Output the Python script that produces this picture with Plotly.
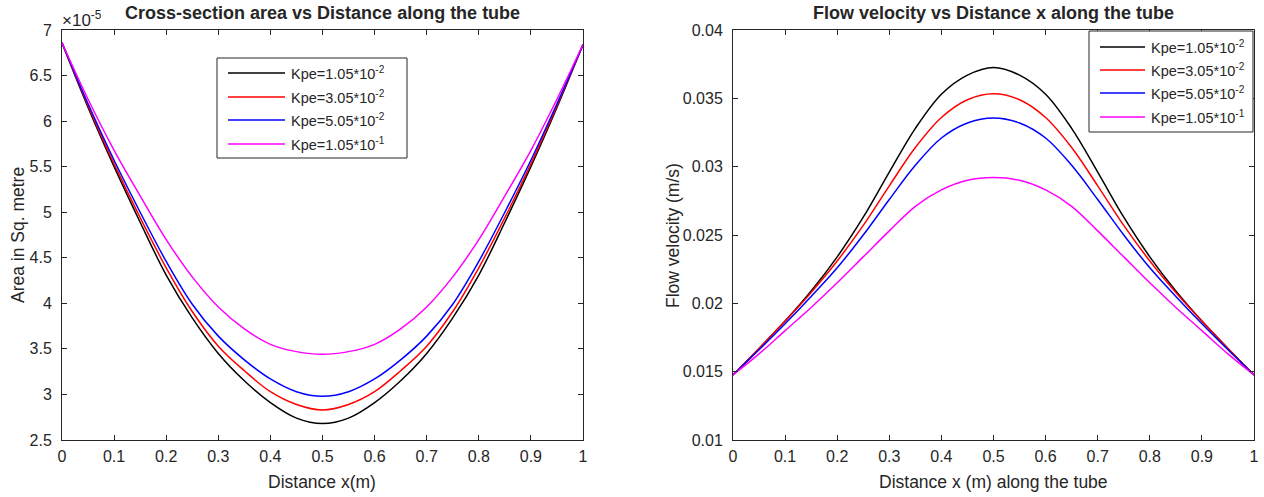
import plotly.graph_objects as go

#-------------------------------------------------------------------------------
#   Values (x every 0.05 m)
#-------------------------------------------------------------------------------
x_dist = [0, 0.05, 0.1, 0.15, 0.2, 0.25, 0.3, 0.35, 0.4, 0.45, 0.5,
          0.55, 0.6, 0.65, 0.7, 0.75, 0.8, 0.85, 0.9, 0.95, 1]

kpe_labels = ['Kpe=1.05*10<sup>-2</sup>', 'Kpe=3.05*10<sup>-2</sup>',
              'Kpe=5.05*10<sup>-2</sup>', 'Kpe=1.05*10<sup>-1</sup>']
kpe_colors = ['#000000', '#FF0000', '#0000FF', '#FF00FF']

# cross-section area, in units of 1e-5 m^2
area_k1 = [6.86, 6.15, 5.50, 4.89, 4.31, 3.84, 3.45, 3.15, 2.91, 2.74, 2.68,
           2.74, 2.91, 3.15, 3.45, 3.84, 4.31, 4.89, 5.50, 6.15, 6.84]
area_k2 = [6.86, 6.17, 5.53, 4.94, 4.39, 3.91, 3.53, 3.26, 3.03, 2.89, 2.83,
           2.89, 3.03, 3.26, 3.53, 3.91, 4.39, 4.94, 5.53, 6.17, 6.84]
area_k3 = [6.86, 6.19, 5.57, 5.00, 4.46, 3.99, 3.64, 3.38, 3.17, 3.03, 2.98,
           3.03, 3.17, 3.38, 3.64, 3.99, 4.46, 5.00, 5.57, 6.19, 6.84]
area_k4 = [6.86, 6.24, 5.68, 5.18, 4.70, 4.29, 3.96, 3.72, 3.55, 3.47, 3.44,
           3.47, 3.55, 3.72, 3.96, 4.29, 4.70, 5.18, 5.68, 6.24, 6.84]

# flow velocity, m/s
vel_k1 = [0.01476, 0.0167, 0.0187, 0.0209, 0.0234, 0.0263, 0.0296, 0.0328,
          0.0353, 0.0367, 0.03726, 0.0367, 0.0353, 0.0328, 0.0296, 0.0263,
          0.0234, 0.0209, 0.0187, 0.0167, 0.01476]
vel_k2 = [0.01476, 0.0167, 0.0187, 0.0208, 0.0231, 0.0257, 0.0286, 0.0314,
          0.0336, 0.0349, 0.03534, 0.0349, 0.0336, 0.0314, 0.0286, 0.0257,
          0.0231, 0.0208, 0.0187, 0.0167, 0.01476]
vel_k3 = [0.01476, 0.0166, 0.0185, 0.0205, 0.0226, 0.0250, 0.0276, 0.0301,
          0.0321, 0.0332, 0.03357, 0.0332, 0.0321, 0.0301, 0.0276, 0.0250,
          0.0226, 0.0205, 0.0185, 0.0166, 0.01476]
vel_k4 = [0.01476, 0.0163, 0.0180, 0.0197, 0.0215, 0.0234, 0.0253, 0.0271,
          0.0283, 0.0290, 0.0292, 0.0290, 0.0283, 0.0271, 0.0253, 0.0234,
          0.0215, 0.0197, 0.0180, 0.0163, 0.01476]

x_ticks = [0, 0.1, 0.2, 0.3, 0.4, 0.5, 0.6, 0.7, 0.8, 0.9, 1]
x_ticktext = ['0', '0.1', '0.2', '0.3', '0.4', '0.5', '0.6', '0.7', '0.8', '0.9', '1']
area_ticks = [2.5, 3, 3.5, 4, 4.5, 5, 5.5, 6, 6.5, 7]
area_ticktext = ['2.5', '3', '3.5', '4', '4.5', '5', '5.5', '6', '6.5', '7']
vel_ticks = [0.01, 0.015, 0.02, 0.025, 0.03, 0.035, 0.04]
vel_ticktext = ['0.01', '0.015', '0.02', '0.025', '0.03', '0.035', '0.04']

#-------------------------------------------------------------------------------
#   Figure, matlab-like look
#-------------------------------------------------------------------------------
W, H = 1264, 497
FONT = 'Liberation Sans, Arial, sans-serif'
AX = '#262626'


def px(x):
    return x / W


def py(y):
    return 1 - y / H


fig = go.Figure()
for area, vel, name, col in zip([area_k1, area_k2, area_k3, area_k4],
                                [vel_k1, vel_k2, vel_k3, vel_k4],
                                kpe_labels, kpe_colors):
    fig.add_trace(go.Scatter(x=x_dist, y=area, mode='lines', name=name,
                             line=dict(color=col, width=1.5, shape='spline'),
                             xaxis='x', yaxis='y', showlegend=False))
    fig.add_trace(go.Scatter(x=x_dist, y=vel, mode='lines', name=name,
                             line=dict(color=col, width=1.5, shape='spline'),
                             xaxis='x2', yaxis='y2', showlegend=False))

axis_style = dict(
    showline=True, linecolor=AX, linewidth=1, mirror='ticks',
    ticks='inside', ticklen=5, tickcolor=AX, tickwidth=1,
    showgrid=False, zeroline=False, automargin=False,
    tickfont=dict(family=FONT, size=16, color=AX),
)
fig.update_layout(
    template='none',
    width=W, height=H,
    margin=dict(l=0, r=0, t=0, b=0, pad=0),
    paper_bgcolor='white', plot_bgcolor='white',
    xaxis=dict(domain=[px(62), px(583)], range=[0, 1], anchor='y',
               tickvals=x_ticks, ticktext=x_ticktext, ticklabelstandoff=2, **axis_style),
    yaxis=dict(domain=[py(440), py(30)], range=[2.5, 7], anchor='x',
               tickvals=area_ticks, ticktext=area_ticktext, ticklabelstandoff=6, **axis_style),
    xaxis2=dict(domain=[px(733), px(1254)], range=[0, 1], anchor='y2',
                tickvals=x_ticks, ticktext=x_ticktext, ticklabelstandoff=2, **axis_style),
    yaxis2=dict(domain=[py(440), py(30)], range=[0.01, 0.04], anchor='x2',
                tickvals=vel_ticks, ticktext=vel_ticktext, ticklabelstandoff=6, **axis_style),
)

#-------------------------------------------------------------------------------
#   Titles, axis labels and exponent label
#-------------------------------------------------------------------------------
texts = [
    ('<b>Cross-section area vs Distance along the tube</b>', 322, 13, 0, 18),
    ('<b>Flow velocity vs Distance x along the tube</b>', 993, 13, 0, 18),
    ('Distance x(m)', 322, 482, 0, 17.5),
    ('Distance x (m) along the tube', 993, 482, 0, 17.5),
    ('Area in Sq. metre', 18, 235, -90, 17.5),
    ('Flow velocity (m/s)', 673, 235, -90, 17.5),
]
for txt, x, y, ang, size in texts:
    fig.add_annotation(text=txt, x=px(x), y=py(y), xref='paper', yref='paper',
                       showarrow=False, textangle=ang, xanchor='center',
                       yanchor='middle', font=dict(family=FONT, size=size, color=AX))
fig.add_annotation(text='\u00d710<sup>-5</sup>', x=px(61), y=py(19),
                   xref='paper', yref='paper', showarrow=False,
                   xanchor='left', yanchor='middle', borderpad=0,
                   font=dict(family=FONT, size=17, color=AX))

#-------------------------------------------------------------------------------
#   Legend boxes drawn like matlab (longer line samples)
#-------------------------------------------------------------------------------
legends = [
    # box x0, x1, y0, y1, line x0, x1, text x, row ys
    (217, 407, 58, 158, 228, 285, 290, [73, 97, 120, 144]),
    (1089, 1253, 31, 132, 1100, 1145, 1150, [47, 70, 93, 117]),
]
for bx0, bx1, by0, by1, lx0, lx1, tx, rows in legends:
    fig.add_shape(type='rect', xref='paper', yref='paper',
                  x0=px(bx0), x1=px(bx1), y0=py(by1), y1=py(by0),
                  line=dict(color=AX, width=1), fillcolor='white')
    for ry, name, col in zip(rows, kpe_labels, kpe_colors):
        fig.add_shape(type='line', xref='paper', yref='paper',
                      x0=px(lx0), x1=px(lx1), y0=py(ry), y1=py(ry),
                      line=dict(color=col, width=1.5))
        fig.add_annotation(text=name, x=px(tx), y=py(ry), xref='paper', yref='paper',
                           showarrow=False, xanchor='left', yanchor='middle',
                           borderpad=0, font=dict(family=FONT, size=14.5, color=AX))

# page body has an 8px default margin; drop it so the figure sits at 0,0
fig.write_html('out.html', config={'displayModeBar': False},
               post_script="document.body.style.margin='0';")
